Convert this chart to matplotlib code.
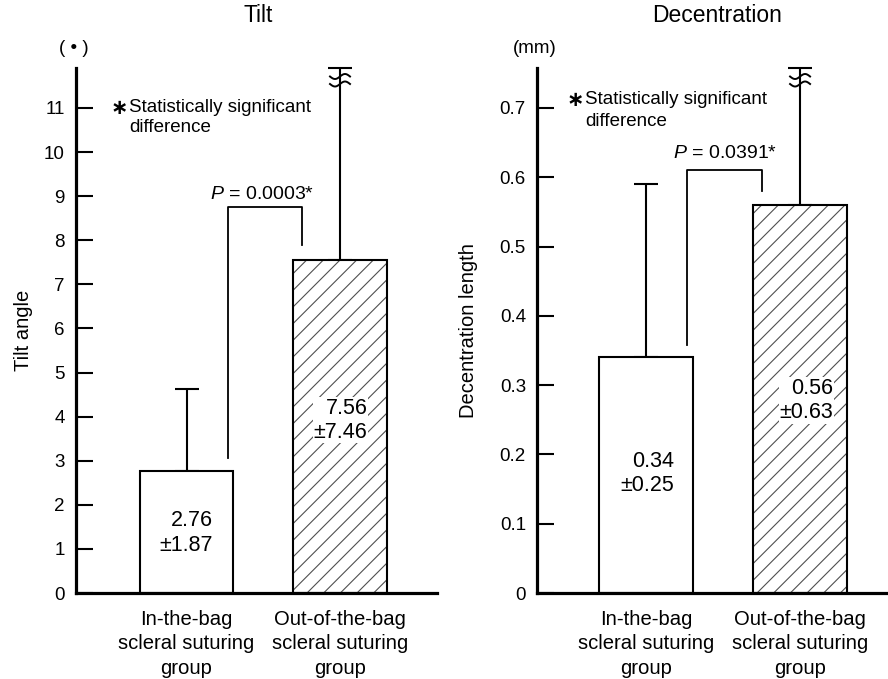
import numpy as np
import matplotlib
matplotlib.use("Agg")
import matplotlib.pyplot as plt
import matplotlib.transforms as mtransforms

plt.rcParams['font.family'] = ['Liberation Sans', 'DejaVu Sans']
plt.rcParams['mathtext.fontset'] = 'custom'
plt.rcParams['mathtext.rm'] = 'Liberation Sans'
plt.rcParams['mathtext.it'] = 'Liberation Sans:italic'
plt.rcParams['hatch.linewidth'] = 0.8

# ---- data ----
categories = ["In-the-bag\nscleral suturing\ngroup", "Out-of-the-bag\nscleral suturing\ngroup"]
tilt_mean = [2.76, 7.56]
tilt_sd = [1.87, 7.46]
dec_mean = [0.34, 0.56]
dec_sd = [0.25, 0.63]
tilt_p = "0.0003"
dec_p = "0.0391"
tilt_ticks = list(range(0, 12))
tilt_ticklabels = [str(t) for t in tilt_ticks]
dec_ticks = [0, 0.1, 0.2, 0.3, 0.4, 0.5, 0.6, 0.7]
dec_ticklabels = ["0", "0.1", "0.2", "0.3", "0.4", "0.5", "0.6", "0.7"]

W, H = 888, 679
fig = plt.figure(figsize=(W / 100, H / 100), dpi=100)

def px_axes(x0, x1, ytop, ybot):
    return fig.add_axes([x0 / W, (H - ybot) / H, (x1 - x0) / W, (ybot - ytop) / H])

ax1 = px_axes(76, 437, 68, 593)
ax2 = px_axes(537, 888, 68, 593)


def break_mark(ax, xi, ytop):
    # two small tildes just below the cap of a truncated error bar (inch offsets)
    trans = fig.dpi_scale_trans + mtransforms.ScaledTranslation(xi, ytop, ax.transData)
    t = np.linspace(-0.1, 0.1, 40)
    for off in (-0.085, -0.16):
        yy = off + 0.025 * np.sin(t / 0.1 * np.pi)
        ax.plot(t, yy, color='black', lw=1.4, transform=trans, clip_on=False, zorder=6)


def panel(ax, means, sds, ytop, xlim, ticks, ticklabels, unit, ylabel, ylabel_x,
          pstr, bracket, ptext_xy, note_xy, val_fmt, val_pos):
    means = np.array(means)
    sds = np.array(sds)
    x = np.arange(len(means))
    width = 0.61
    ax.set_xlim(*xlim)
    ax.set_ylim(0, ytop)
    hatches = [None, '//']
    bars = ax.bar(x, means, width=width, color='white', edgecolor='#505050',
                  linewidth=0, zorder=2)
    for b, h in zip(bars, hatches):
        if h:
            b.set_hatch(h)
    ax.bar(x, means, width=width, fill=False, edgecolor='black', linewidth=1.5, zorder=3)

    upper = np.minimum(sds, ytop - means)
    eb = ax.errorbar(x, means, yerr=[np.zeros_like(means), upper], fmt='none',
                     ecolor='black', elinewidth=1.5, capsize=8.5, capthick=1.5, zorder=1)
    for art in list(eb.lines[1]) + list(eb.lines[2]):
        art.set_clip_on(False)
    for xi, m, s in zip(x, means, sds):
        if m + s > ytop:
            break_mark(ax, xi, ytop)

    for s in ['top', 'right']:
        ax.spines[s].set_visible(False)
    ax.spines['left'].set_linewidth(2.3)
    ax.spines['bottom'].set_linewidth(2.3)

    ax.set_yticks(ticks, ticklabels)
    ax.tick_params(axis='y', direction='in', length=12, width=1.5, pad=8, labelsize=13.5)
    ax.set_xticks(x, categories)
    ax.tick_params(axis='x', length=0, pad=12, labelsize=14.6)
    for lbl in ax.get_xticklabels():
        lbl.set_linespacing(1.37)
    ax.set_ylabel(ylabel, fontsize=14.5)
    ax.yaxis.set_label_coords(ylabel_x, 0.5)
    ax.text(-0.006, 1.038, unit, transform=ax.transAxes, ha='center', va='center', fontsize=13.5)

    xl, xr, yl, yt, yr = bracket
    ax.plot([xl, xl, xr, xr], [yl, yt, yt, yr], color='black', lw=1.3, zorder=4)
    px, py = ptext_xy
    ax.text(px, py, r"$\mathit{P}$ = " + pstr + "*",
            ha='center', va='center', fontsize=14)

    nx, ny, ny2 = note_xy
    ax.text(nx, ny, "\u2217", ha='left', va='center', fontsize=15, fontweight='bold',
            transform=ax.transAxes)
    ax.text(nx + 0.052, ny, "Statistically significant", ha='left', va='center',
            fontsize=13.5, transform=ax.transAxes)
    ax.text(nx + 0.052, ny2, "difference", ha='left', va='center',
            fontsize=13.5, transform=ax.transAxes)

    for xi, m, s, (dx, vy) in zip(x, means, sds, val_pos):
        ax.text(xi + dx, vy, (val_fmt.format(m) + "\n\u00b1" + val_fmt.format(s)),
                ha='right', va='center', multialignment='right', fontsize=15.5,
                linespacing=1.2, zorder=5,
                bbox=dict(facecolor='white', edgecolor='none', pad=0.5))


panel(ax1, tilt_mean, tilt_sd, 11.907, (-0.72, 1.632), tilt_ticks, tilt_ticklabels,
      "( \u2022 )", "Tilt angle", -0.118,
      tilt_p, (0.27, 0.752, 3.06, 8.75, 7.9), (0.494, 9.04),
      (0.095, (593 - 108) / 525, (593 - 128) / 525), "{:.2f}",
      [(0.175, 1.36), (0.18, 3.92)])

panel(ax2, dec_mean, dec_sd, 0.7577, (-0.708, 1.571), dec_ticks, dec_ticklabels,
      "(mm)", "Decentration length", -0.167,
      dec_p, (0.266, 0.753, 0.358, 0.61, 0.58), (0.51, 0.635),
      (0.085, (593 - 100) / 525, (593 - 122) / 525), "{:.2f}",
      [(0.18, 0.172), (0.215, 0.278)])

fig.text(258 / W, 1 - 15 / H, "Tilt", ha='center', va='center', fontsize=16.5)
fig.text(717 / W, 1 - 15 / H, "Decentration", ha='center', va='center', fontsize=16.5)

fig.savefig("out.png", dpi=100, facecolor='white')
